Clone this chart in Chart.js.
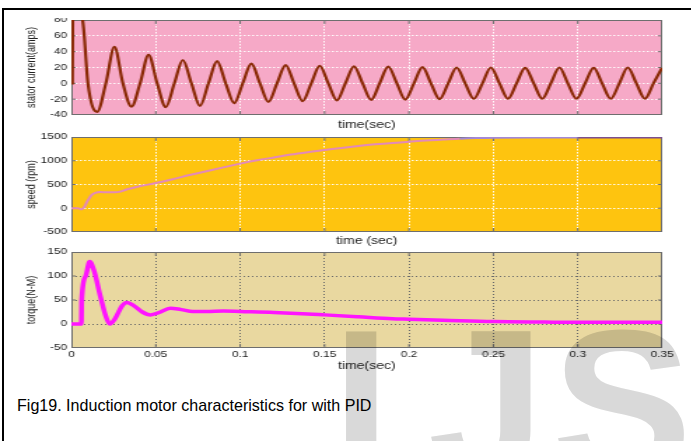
<!DOCTYPE html>
<html><head><meta charset="utf-8">
<script src="https://cdn.jsdelivr.net/npm/chart.js@4.4.0/dist/chart.umd.min.js"></script>
<style>
html,body{margin:0;padding:0;background:#fff;width:691px;height:441px;overflow:hidden;position:relative;font-family:"Liberation Sans",Arial,sans-serif;}
.wrap{position:absolute;left:0;transform-origin:0 0;transform:scaleX(1.4);}
#frameTop{position:absolute;left:2px;top:8px;width:689px;height:2px;background:#000;}
#frameLeft{position:absolute;left:2px;top:8px;width:2px;height:433px;background:#000;}
#caption{position:absolute;left:17px;top:397px;font-size:17px;line-height:17px;white-space:nowrap;transform-origin:0 0;transform:scaleX(0.945);color:#000;}
.wm{position:absolute;top:299px;font-size:210px;line-height:210px;font-weight:bold;color:#d9d9d9;mix-blend-mode:multiply;white-space:nowrap;pointer-events:none;font-family:"Liberation Sans",Arial,sans-serif;}
</style></head>
<body>
<div class="wrap" style="top:18px"><canvas id="c1" width="494" height="114"></canvas></div>
<div class="wrap" style="top:128px"><canvas id="c2" width="494" height="122"></canvas></div>
<div class="wrap" style="top:244px"><canvas id="c3" width="494" height="132"></canvas></div>
<div id="frameTop"></div><div id="frameLeft"></div>
<div id="caption">Fig19. Induction motor characteristics for with PID</div>
<div class="wm" style="left:332px">I</div>
<div class="wm" style="left:428px">J</div>
<div class="wm" style="left:552px">S</div>
<script>
// ---- data ----
const xTicks = [0, 0.05, 0.1, 0.15, 0.2, 0.25, 0.3, 0.35];
const currentTicks = [-40, -20, 0, 20, 40, 60, 80];
const speedTicks = [-500, 0, 500, 1000, 1500];
const torqueTicks = [-50, 0, 50, 100, 150];

const currentTime = [
  0, 0.0006, 0.0008, 0.003, 0.005, 0.0072, 0.0098,
  0.0153, 0.0204, 0.0255, 0.0305,
  0.0356, 0.0407, 0.0457, 0.0508,
  0.0559, 0.0610, 0.0660, 0.0711,
  0.0762, 0.0812, 0.0863, 0.0914,
  0.0964, 0.1015, 0.1066, 0.1117,
  0.1167, 0.1218, 0.1269, 0.1319,
  0.1370, 0.1421, 0.1471, 0.1522,
  0.1573, 0.1623, 0.1674, 0.1725,
  0.1776, 0.1826, 0.1877, 0.1928,
  0.1978, 0.2029, 0.2080, 0.2130,
  0.2181, 0.2232, 0.2282, 0.2333,
  0.2384, 0.2435, 0.2485, 0.2536,
  0.2587, 0.2637, 0.2688, 0.2739,
  0.2789, 0.2840, 0.2891, 0.2941,
  0.2992, 0.3043, 0.3094, 0.3144,
  0.3195, 0.3246, 0.3296, 0.3347,
  0.3398, 0.3448, 0.3499
];
const currentAmps = [
  0, 0, 90, 110, 100, 70, 0,
  -36, 0, 46, 0,
  -29.5, 0, 36, 0,
  -30, 0, 29.5, 0,
  -28.5, 0, 28, 0,
  -25, 0, 25, 0,
  -23.5, 0, 23, 0,
  -22.5, 0, 22, 0,
  -21.5, 0, 21.5, 0,
  -21, 0, 21, 0,
  -20.5, 0, 20.5, 0,
  -20, 0, 20, 0,
  -19.5, 0, 20, 0,
  -19.5, 0, 19.5, 0,
  -19.5, 0, 20, 0,
  -19.5, 0, 19.5, 0,
  -19.5, 0, 20, 0,
  -19.5, 0, 19.5
];

const speedTime = [0, 0.004, 0.0058, 0.0075, 0.0095, 0.012, 0.0145, 0.017, 0.021, 0.026,
  0.029, 0.033, 0.04, 0.05, 0.06, 0.07, 0.08, 0.09, 0.1, 0.11,
  0.12, 0.13, 0.14, 0.15, 0.16, 0.17, 0.18, 0.19, 0.2, 0.21,
  0.22, 0.23, 0.24, 0.25, 0.27, 0.3, 0.35];
const speedRpm = [0, 0, -25, 20, 150, 280, 330, 340, 335, 335,
  350, 400, 460, 530, 610, 700, 780, 860, 940, 1010,
  1070, 1130, 1180, 1225, 1270, 1310, 1345, 1375, 1400, 1425,
  1445, 1465, 1478, 1485, 1490, 1490, 1490];

const torqueTime = [0, 0.0059, 0.0061, 0.0085, 0.0108, 0.0135, 0.0172, 0.0205, 0.0227, 0.026,
  0.03, 0.033, 0.037, 0.042, 0.0468, 0.052, 0.0586, 0.065, 0.072, 0.08,
  0.09, 0.1, 0.12, 0.14, 0.15, 0.17, 0.19, 0.2, 0.22, 0.25,
  0.28, 0.3, 0.35];
const torqueNm = [0, 0, 50, 100, 130, 110, 57, 15, 0, 12,
  38, 45, 38, 25, 19, 24, 33, 30, 26, 26,
  27, 26, 24, 21, 19, 15, 11, 10, 8, 5,
  4, 3.5, 3.5];

// ---- drawing ----
const F = '"Liberation Sans", Arial, sans-serif';
const TXT = '#222';

const boxPlugin = {
  id: 'box',
  beforeDraw(chart, args, opts) {
    const {ctx, chartArea: a} = chart;
    ctx.save();
    ctx.fillStyle = opts.bg;
    ctx.fillRect(a.left, a.top, a.right - a.left, a.bottom - a.top);
    ctx.restore();
  },
  beforeDatasetsDraw(chart, args, opts) {
    const {ctx, chartArea: a, scales} = chart;
    ctx.save();
    ctx.strokeStyle = opts.edge;
    ctx.lineWidth = 1;
    ctx.beginPath();
    scales.x.ticks.forEach(t => {
      const px = scales.x.getPixelForValue(t.value);
      if (px <= a.left + 1 || px >= a.right - 1) return;
      ctx.moveTo(px, a.top); ctx.lineTo(px, a.top + 4);
      ctx.moveTo(px, a.bottom); ctx.lineTo(px, a.bottom - 4);
    });
    scales.y.ticks.forEach(t => {
      const py = scales.y.getPixelForValue(t.value);
      if (py <= a.top + 1 || py >= a.bottom - 1) return;
      ctx.moveTo(a.left, py); ctx.lineTo(a.left + 3, py);
      ctx.moveTo(a.right, py); ctx.lineTo(a.right - 3, py);
    });
    ctx.stroke();
    ctx.strokeRect(a.left + 0.5, a.top + 0.5, a.right - a.left - 1, a.bottom - a.top - 1);
    ctx.restore();
  }
};

function makeChart(id, o) {
  const pts = o.t.map((t, i) => ({x: t, y: o.v[i]}));
  const gridColor = (min, max) => c => (c.tick && (c.tick.value === min || c.tick.value === max)) ? 'rgba(0,0,0,0)' : o.grid;
  return new Chart(document.getElementById(id), {
    type: 'line',
    data: {datasets: [{
      data: pts, borderColor: o.color, borderWidth: o.lw, pointRadius: 0,
      cubicInterpolationMode: 'monotone', fill: false, segment: o.segment || {}
    }]},
    options: {
      responsive: false, animation: false, devicePixelRatio: 1,
      layout: {padding: {left: 0, right: 21, top: o.padTop, bottom: 0}},
      plugins: {legend: {display: false}, tooltip: {enabled: false}, box: {bg: o.bg, edge: '#6e6e6e'}},
      scales: {
        x: {
          type: 'linear', min: 0, max: 0.35, position: 'bottom',
          afterBuildTicks: s => { s.ticks = xTicks.map(v => ({value: v})); },
          afterFit: s => { s.height = o.xH; s.paddingLeft = 0; s.paddingRight = 0; },
          ticks: {display: o.xLabels, padding: 1.4, font: {family: F, size: 8.5}, color: TXT,
            maxRotation: 0, autoSkip: false, callback: v => String(v)},
          grid: {color: gridColor(0, 0.35), lineWidth: 1, drawTicks: false},
          border: {display: false, dash: o.dash},
          title: {display: true, text: o.xTitle, font: {family: F, size: 10}, color: TXT,
            padding: {top: 0, bottom: o.xTitlePad}}
        },
        y: {
          type: 'linear', min: o.min, max: o.max,
          afterBuildTicks: s => { s.ticks = o.yTicks.map(v => ({value: v})); },
          afterFit: s => { s.width = 51; s.paddingTop = 0; s.paddingBottom = 0; },
          ticks: {padding: 3, font: {family: F, size: 8.5}, color: TXT, autoSkip: false, callback: v => String(v)},
          grid: {color: gridColor(o.min, o.max), lineWidth: 1, drawTicks: false},
          border: {display: false, dash: o.dash},
          title: {display: true, text: o.yTitle, font: {family: F, size: 9}, color: TXT,
            padding: {top: 17.5, bottom: 0}}
        }
      }
    },
    plugins: [boxPlugin]
  });
}

makeChart('c1', {
  t: currentTime, v: currentAmps, color: '#8a2a06', lw: 2.2,
  bg: '#f6a9c7', grid: 'rgba(255,255,255,0.95)', dash: [1.5, 1.5],
  min: -40, max: 80, yTicks: currentTicks, yTitle: 'stator current(amps)',
  xTitle: 'time(sec)', xLabels: false, xH: 17, xTitlePad: 1, padTop: 2
});
makeChart('c2', {
  t: speedTime, v: speedRpm, color: '#e38ab8', lw: 2,
  segment: {borderColor: c => c.p0.parsed.x >= 0.29 ? '#7d4f8f' : (c.p0.parsed.x >= 0.23 ? '#a488d6' : undefined)},
  bg: '#fec40f', grid: 'rgba(255,255,255,0.95)', dash: [1.5, 1.5],
  min: -500, max: 1500, yTicks: speedTicks, yTitle: 'speed (rpm)',
  xTitle: 'time (sec)', xLabels: false, xH: 18, xTitlePad: 3, padTop: 9
});
makeChart('c3', {
  t: torqueTime, v: torqueNm, color: '#ff14ff', lw: 3.5,
  bg: '#e9d8a0', grid: '#6a6a6a', dash: [1, 2],
  min: -50, max: 150, yTicks: torqueTicks, yTitle: 'torque(N-M)',
  xTitle: 'time(sec)', xLabels: true, xH: 28, xTitlePad: 4, padTop: 8
});
</script>
</body></html>
